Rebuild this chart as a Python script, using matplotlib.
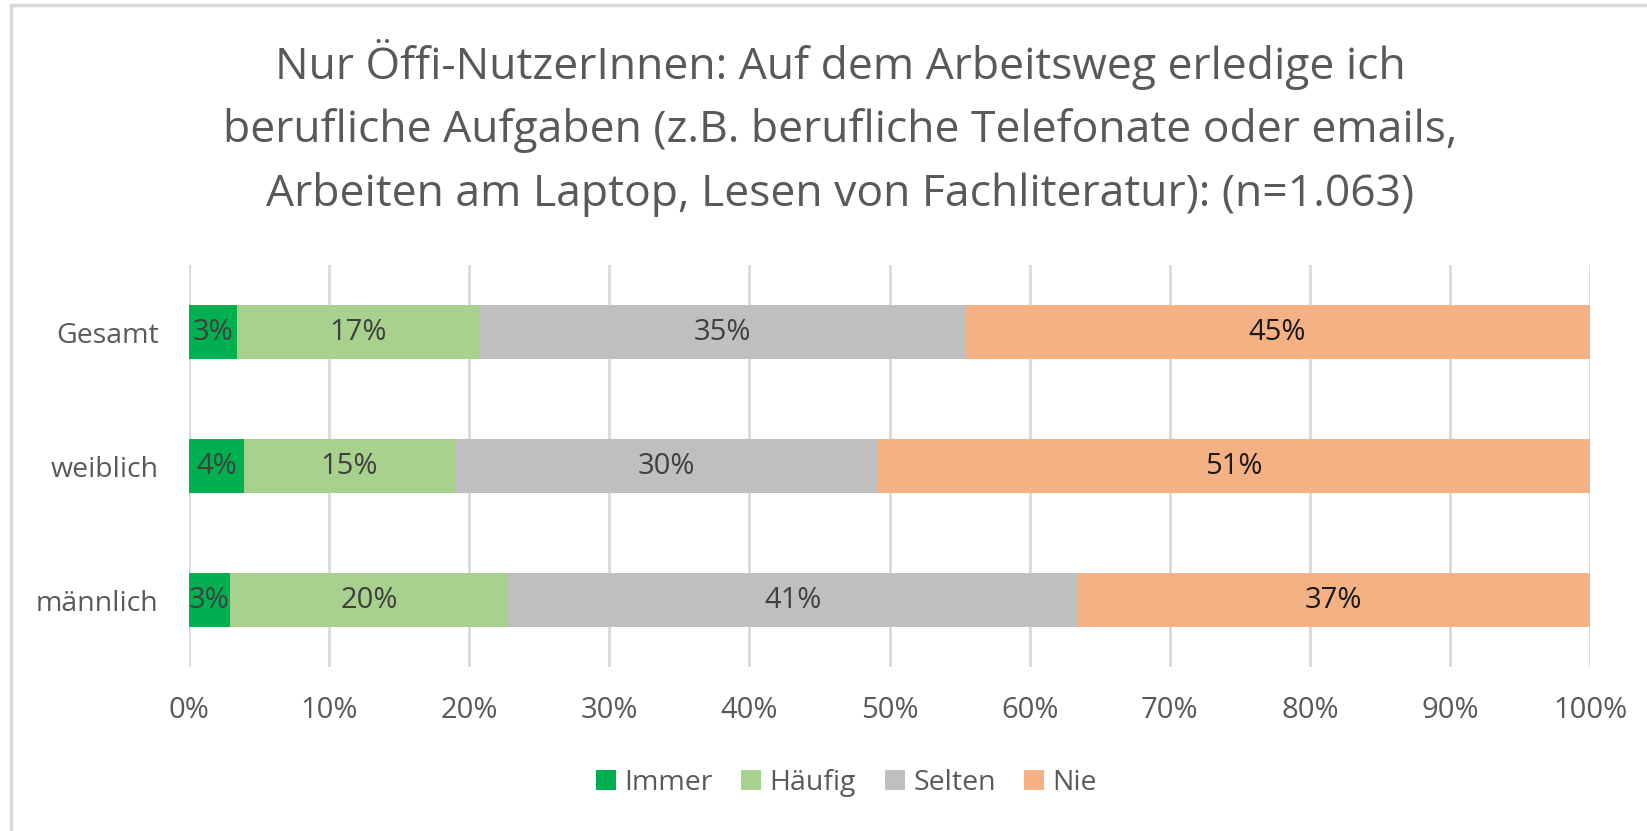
import numpy as np
import matplotlib.pyplot as plt
from matplotlib.patches import Rectangle

plt.rcParams['font.family'] = ['Open Sans', 'DejaVu Sans']

# Daten (Anteile in %)
kategorien = ['Gesamt', 'weiblich', 'männlich']
serien = ['Immer', 'Häufig', 'Selten', 'Nie']
immer = [3.4, 3.9, 2.9]
haeufig = [17.3, 15.1, 19.9]
selten = [34.7, 30.2, 40.6]
nie = [44.6, 50.8, 36.6]
farben = ['#00B050', '#A9D18E', '#BFBFBF', '#F4B183']
textfarben = ['#404040', '#404040', '#404040', '#1a1a1a']
titel = ('Nur Öffi-NutzerInnen: Auf dem Arbeitsweg erledige ich\n'
         'berufliche Aufgaben (z.B. berufliche Telefonate oder emails,\n'
         'Arbeiten am Laptop, Lesen von Fachliteratur): (n=1.063)')

fig = plt.figure(figsize=(16.47, 8.31), dpi=100)
ax = fig.add_axes([0.1148, 0.197, 0.8506, 0.484])

y = np.arange(len(kategorien))
links = np.zeros(len(kategorien))
for name, werte, farbe, tf in zip(serien, [immer, haeufig, selten, nie], farben, textfarben):
    werte = np.array(werte)
    bars = ax.barh(y, werte, left=links, height=0.4, color=farbe, label=name, zorder=3)
    for b, v in zip(bars, werte):
        ax.text(b.get_x() + b.get_width() / 2, b.get_y() + b.get_height() / 2,
                f'{v:.0f}%', ha='center', va='center', fontsize=21, color=tf, zorder=4)
    links += werte

ax.set_xlim(0, 100)
ax.set_ylim(len(kategorien) - 0.5, -0.5)
ax.set_yticks(y)
ax.set_yticklabels(kategorien, fontsize=20.5, color='#595959')
ax.set_xticks(np.arange(0, 101, 10))
ax.set_xticklabels([f'{t}%' for t in range(0, 101, 10)], fontsize=21, color='#595959')
ax.tick_params(length=0)
ax.tick_params(axis='x', pad=21)
ax.tick_params(axis='y', pad=22)
ax.grid(axis='x', color='#D9D9D9', linewidth=2, zorder=0)
for s in ax.spines.values():
    s.set_visible(False)

fig.text(0.510, 0.846, titel, fontsize=32, color='#595959', ha='center', va='center',
         linespacing=1.55)

leg = fig.legend(loc='center', bbox_to_anchor=(0.514, 0.058), ncol=4, frameon=False,
                 fontsize=20.5, handlelength=0.7, handleheight=0.7, handletextpad=0.3,
                 columnspacing=1.0)
for t in leg.get_texts():
    t.set_color('#595959')

# Rahmen des Diagramms
fig.patches.append(Rectangle((11 / 1647, -0.01), 1.0, 1 - 5 / 831 + 0.01,
                             transform=fig.transFigure, fill=False,
                             edgecolor='#D9D9D9', linewidth=2.5))

fig.savefig('out.png', dpi=100, facecolor='white')
